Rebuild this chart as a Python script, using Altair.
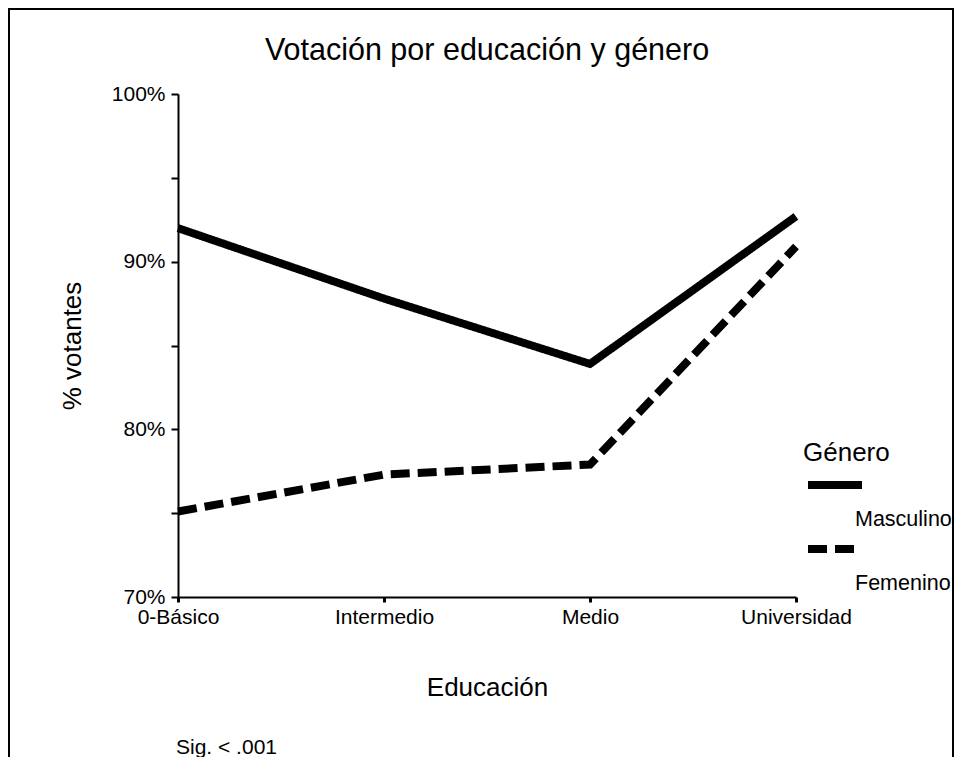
import altair as alt
import pandas as pd

categorias = ["0-Básico", "Intermedio", "Medio", "Universidad"]
generos = ["Masculino", "Femenino"]
masculino = [0.920, 0.878, 0.839, 0.927]
femenino = [0.751, 0.773, 0.779, 0.909]
y_ticks = [0.70, 0.75, 0.80, 0.85, 0.90, 0.95, 1.00]

titulo = "Votación por educación y género"
nota = "Sig. < .001"

rows = []
for g, serie in zip(generos, [masculino, femenino]):
    for c, v in zip(categorias, serie):
        rows.append({"Educación": c, "Género": g, "Votantes": v})
df = pd.DataFrame(rows)

FONT = "Liberation Sans"
W, H = 618, 503

lines = alt.Chart(df).mark_line(strokeWidth=8, strokeCap="butt", color="black").encode(
    x=alt.X("Educación:N", sort=categorias,
            scale=alt.Scale(type="point", padding=0, domain=categorias),
            axis=alt.Axis(title="Educación", labelAngle=0, labelFontSize=21, labelPadding=4,
                          tickSize=5, tickWidth=3, tickColor="black", domainColor="black",
                          domainWidth=2, labelColor="black", titleFontSize=26,
                          titleFontWeight="normal", titleColor="black",
                          titleX=W / 2, titleY=90, titleBaseline="middle", titleAlign="center")),
    y=alt.Y("Votantes:Q",
            scale=alt.Scale(domain=[0.70, 1.00], nice=False, zero=False),
            axis=alt.Axis(title="% votantes", values=y_ticks, format=".0%",
                          labelExpr="(round(datum.value*100) % 10 == 0) ? datum.label : ''",
                          labelFontSize=21, labelPadding=6, tickSize=7, tickWidth=2,
                          tickColor="black", domainColor="black", domainWidth=2,
                          labelColor="black", grid=False, titleFontSize=26,
                          titleFontWeight="normal", titleColor="black",
                          titleX=-106, titleY=H / 2, titleAngle=270,
                          titleBaseline="middle", titleAlign="center")),
    strokeDash=alt.StrokeDash("Género:N",
                              scale=alt.Scale(domain=generos, range=[[1, 0], [19, 8]]),
                              legend=alt.Legend(title="Género", orient="none",
                                                legendX=625, legendY=346,
                                                symbolType="M-0.933,0H2.667",
                                                symbolSize=900,
                                                symbolStrokeWidth=8, symbolStrokeColor="black",
                                                symbolOffset=0,
                                                labelExpr="['', datum.label]",
                                                labelBaseline="top", labelOffset=14,
                                                labelFontSize=21.5, labelColor="black",
                                                titleFontSize=26, titleFontWeight="normal",
                                                titleColor="black", titlePadding=0,
                                                rowPadding=0, padding=0)),
    order=alt.Order("order:Q"),
).transform_calculate(
    order="indexof(%s, datum['Educación'])" % str(categorias)
)

one = alt.Data(values=[{"k": 1}])

border = alt.Chart(one).mark_rect(fillOpacity=0, stroke="black", strokeWidth=2).encode(
    x=alt.value(-169), x2=alt.value(775), y=alt.value(-85), y2=alt.value(720)
)

sig = alt.Chart(one).mark_text(text=nota, align="left", baseline="middle",
                               fontSize=21, font=FONT, color="black").encode(
    x=alt.value(-2), y=alt.value(654)
)

chart = alt.layer(border, lines, sig).properties(
    width=W, height=H,
    title=alt.TitleParams(titulo, fontSize=30.5, fontWeight="normal", color="black",
                          font=FONT, anchor="middle", frame="group", offset=0,
                          baseline="bottom", dy=88),
    autosize=alt.AutoSizeParams(type="none"),
    padding={"left": 170, "top": 86, "right": 158, "bottom": 160},
).configure(font=FONT).configure_view(stroke=None).configure_axis(
    labelFont=FONT, titleFont=FONT
).configure_legend(labelFont=FONT, titleFont=FONT)

chart.save("out.html", embed_options={"renderer": "svg", "actions": False})
